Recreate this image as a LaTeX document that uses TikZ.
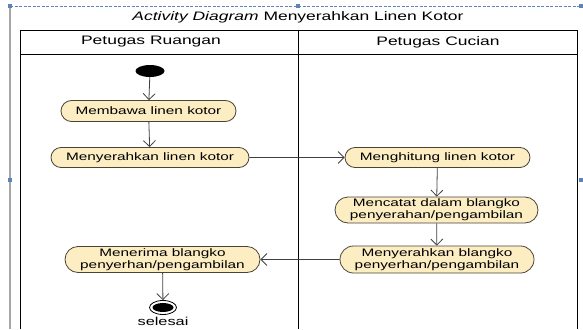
\documentclass[tikz,border=0pt]{standalone}
\usepackage{fontspec}
\setmainfont{Liberation Sans}[FakeStretch=1.42]
\usetikzlibrary{arrows.meta,shapes.misc,shapes.geometric}
\definecolor{actfill}{HTML}{FCEDC2}
\definecolor{actdraw}{HTML}{4A4438}
\definecolor{selblue}{HTML}{5B84B8}
\begin{document}
\begin{tikzpicture}[x=1pt,y=-1pt,
  every node/.style={font=\fontsize{10.8}{11.6}\selectfont},
  heading/.style={font=\fontsize{12.3}{13}\selectfont},
  activity/.style={rounded rectangle, draw=actdraw, line width=0.8pt, fill=actfill,
    inner sep=0pt, align=center},
  flow/.style={draw=black!75, line width=0.8pt,
    -{Straight Barb[length=6pt,width=12pt,line width=0.8pt]}},
  lane/.style={draw=black, line width=0.9pt},
  handle/.style={fill=selblue, draw=none, minimum size=4pt, inner sep=0pt}
]
\useasboundingbox (0,0) rectangle (583,329);

% selection frame
\draw[gray!70, line width=1.6pt] (10,6) -- (10,329);
\draw[selblue, dashed, dash pattern=on 3pt off 1.5pt, line width=0.8pt] (10,6) -- (583,6);
\node[handle] (h1) at (10,6) {};
\node[handle] (h2) at (298,6) {};
\node[handle] (h3) at (581,6) {};
\node[handle] (h4) at (10,180) {};
\node[handle] (h5) at (581,180) {};

% title
\node[heading] (title) at (298,17.5) {\textit{Activity Diagram} Menyerahkan Linen Kotor};

% swimlanes
\draw[lane] (20,329) -- (20,30) -- (577,30) -- (577,329);
\draw[lane] (20,54) -- (577,54);
\draw[lane] (298,30) -- (298,329);
\node[heading] (laneA) at (151,42) {Petugas Ruangan};
\node[heading] (laneB) at (438,42) {Petugas Cucian};

% start
\node[ellipse, fill=black, minimum width=29pt, minimum height=12pt, inner sep=0pt] (start) at (150,71) {};

% activities
\node[activity, minimum width=175pt, minimum height=21pt] (a1) at (148.5,111) {Membawa linen kotor};
\node[activity, minimum width=198pt, minimum height=20pt] (a2) at (150,157.5) {Menyerahkan linen kotor};
\node[activity, minimum width=185pt, minimum height=20pt] (b1) at (437.5,157.5) {Menghitung linen kotor};
\node[activity, minimum width=203pt, minimum height=26pt] (b2) at (436.5,210) {Mencatat dalam blangko\\penyerahan/pengambilan};
\node[activity, minimum width=194pt, minimum height=27pt] (b3) at (437,259.5) {Menyerahkan blangko\\penyerhan/pengambilan};
\node[activity, minimum width=195pt, minimum height=26pt] (a3) at (162.5,259.5) {Menerima blangko\\penyerhan/pengambilan};

% end
\node[ellipse, draw=black, line width=0.8pt, minimum width=27pt, minimum height=14pt, inner sep=0pt] (stop) at (163,307.5) {};
\node[ellipse, fill=black, minimum width=21pt, minimum height=9pt, inner sep=0pt] (stopin) at (163,307.5) {};
\node[font=\fontsize{11.5}{12}\selectfont] (stoplbl) at (163,321) {selesai};

% flows
\draw[flow] (start) -- (a1);
\draw[flow] (a1) -- (a2);
\draw[flow] (a2) -- (b1);
\draw[flow] (b1) -- (b2);
\draw[flow] (b2) -- (b3);
\draw[flow] (b3) -- (a3);
\draw[flow] (a3) -- (stop);
\end{tikzpicture}
\end{document}
